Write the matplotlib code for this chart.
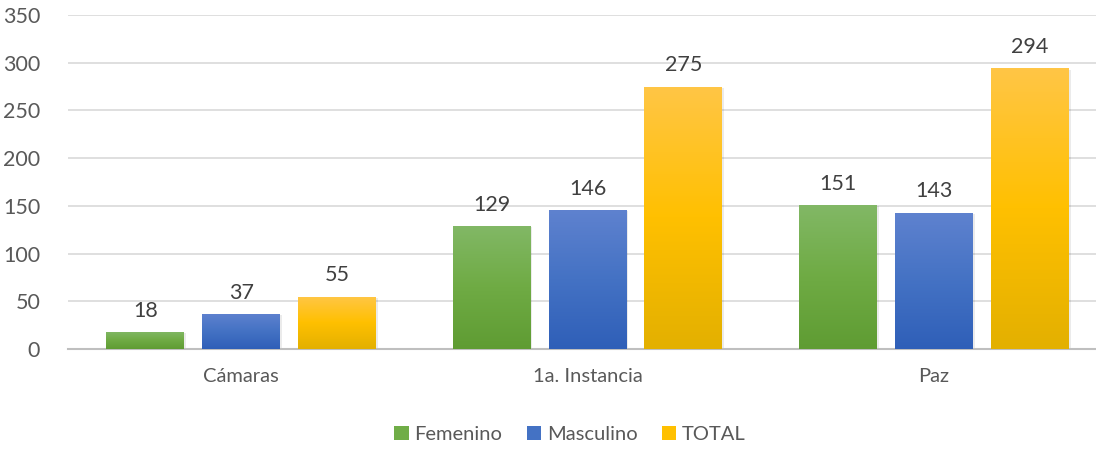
import numpy as np
import matplotlib.pyplot as plt
from matplotlib.colors import LinearSegmentedColormap
from matplotlib.patches import Rectangle, Patch

plt.rcParams['font.family'] = ['Lato', 'DejaVu Sans']

# datos
categorias = ["Cámaras", "1a. Instancia", "Paz"]
femenino = [18, 129, 151]
masculino = [37, 146, 143]
total = [55, 275, 294]
series = ["Femenino", "Masculino", "TOTAL"]

# degradados (arriba -> abajo)
gradientes = [
    ["#82b866", "#6fab44", "#5f9c33"],
    ["#5f82cf", "#4472c4", "#2f5fb8"],
    ["#ffc646", "#ffc000", "#e3b000"],
]
colores_leyenda = ["#70ad47", "#4472c4", "#ffc000"]

fig = plt.figure(figsize=(10.96, 4.5), dpi=100)
ax = fig.add_axes([0.062, 0.2244, 0.938, 0.7423])

x = np.arange(len(categorias))
ancho = 0.225
paso = 0.277

grad = np.linspace(0, 1, 256).reshape(-1, 1)
for i, valores in enumerate([femenino, masculino, total]):
    cmap = LinearSegmentedColormap.from_list("g%d" % i, gradientes[i])
    for xc, v in zip(x + (i - 1) * paso, valores):
        x0 = xc - ancho / 2
        # sombra ligera
        ax.add_patch(Rectangle((x0 + 0.005, -1.5), ancho, v, facecolor="#000000",
                               alpha=0.08, edgecolor="none", zorder=2))
        rect = Rectangle((x0, 0), ancho, v, facecolor="none", edgecolor="none", zorder=3)
        ax.add_patch(rect)
        im = ax.imshow(grad, cmap=cmap, aspect="auto", extent=(x0, x0 + ancho, 0, v),
                       origin="upper", zorder=3)
        im.set_clip_path(rect)
        ax.annotate(str(v), (xc, v), xytext=(0, 8), textcoords="offset points",
                    ha="center", va="bottom", fontsize=15.5, color="#404040")

ax.set_xlim(-0.5, 2.468)
ax.set_ylim(0, 350)
ax.set_yticks(range(0, 351, 50))
ax.set_xticks(x)
ax.set_xticklabels(categorias)
ax.tick_params(axis="x", length=0, pad=14, labelsize=14.5, labelcolor="#595959")
ax.tick_params(axis="y", length=0, pad=20, labelsize=15.5, labelcolor="#595959")
ax.grid(axis="y", color="#d9d9d9", linewidth=1.2, zorder=0)
ax.set_axisbelow(True)
for s in ["top", "right", "left"]:
    ax.spines[s].set_visible(False)
ax.spines["bottom"].set_color("#bfbfbf")
ax.spines["bottom"].set_linewidth(1.5)

handles = [Patch(facecolor=c, edgecolor="none") for c in colores_leyenda]
fig.legend(handles, series, loc="center", bbox_to_anchor=(0.52, 0.035), ncol=3,
           frameon=False, fontsize=14.5, handlelength=0.7, handleheight=0.7,
           handletextpad=0.3, columnspacing=1.2, labelcolor="#595959")

fig.savefig("out.png", dpi=100)
